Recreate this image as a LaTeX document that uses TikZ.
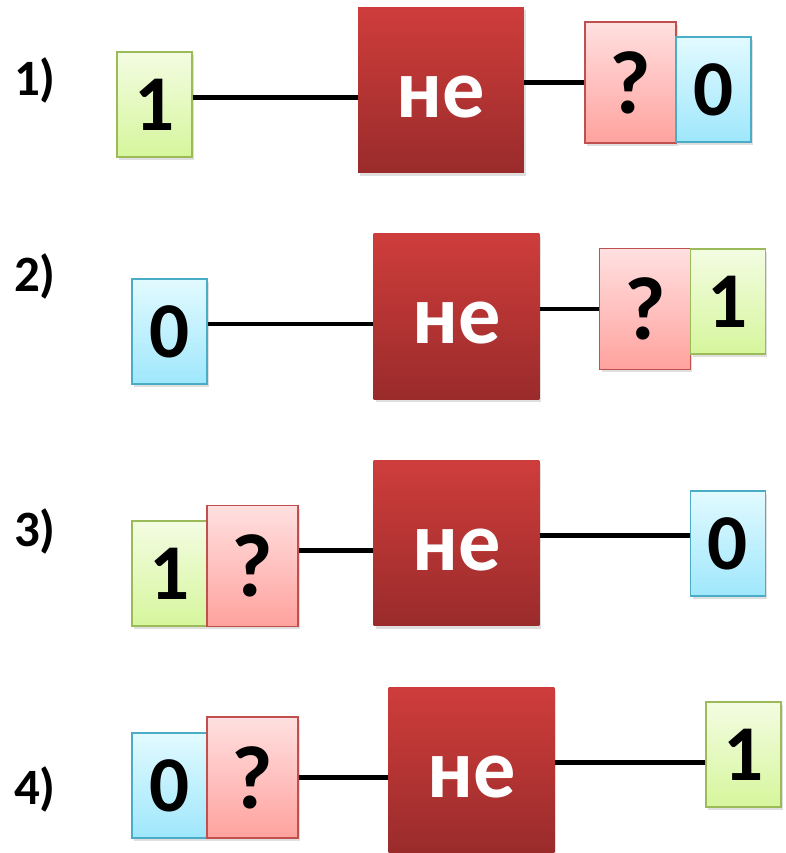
\documentclass[tikz,border=0pt]{standalone}
\usepackage{fontspec}
\setmainfont{Carlito}
\usetikzlibrary{calc,shadows,positioning}
\definecolor{onetop}{HTML}{F3FCE2}
\definecolor{onebot}{HTML}{D6F69C}
\definecolor{onedraw}{HTML}{9BBB59}
\definecolor{zerotop}{HTML}{E2FAFF}
\definecolor{zerobot}{HTML}{9FE7FC}
\definecolor{zerodraw}{HTML}{4BACC6}
\definecolor{asktop}{HTML}{FFE0E0}
\definecolor{askbot}{HTML}{FFA29E}
\definecolor{askdraw}{HTML}{C0504D}
\definecolor{gatetop}{HTML}{CE3D3B}
\definecolor{gatebot}{HTML}{9A2B2B}
\tikzstyle{bit}=[rectangle,inner sep=0pt,minimum width=1.5cm,minimum height=2.1cm,line width=1pt,font=\fontsize{45}{45}\selectfont\bfseries,drop shadow={shadow xshift=.04cm,shadow yshift=-.06cm,opacity=.25}]
\tikzstyle{one}=[bit,draw=onedraw,top color=onetop,bottom color=onebot]
\tikzstyle{zero}=[bit,draw=zerodraw,top color=zerotop,bottom color=zerobot]
\tikzstyle{ask}=[bit,minimum width=1.82cm,minimum height=2.42cm,draw=askdraw,top color=asktop,bottom color=askbot,font=\fontsize{51}{51}\selectfont\bfseries]
\tikzstyle{gate}=[rectangle,inner sep=0pt,minimum size=3.32cm,top color=gatetop,bottom color=gatebot,text=white,font=\fontsize{48}{48}\selectfont\bfseries,text height=1.08cm,text depth=0pt,drop shadow={shadow xshift=.04cm,shadow yshift=-.06cm,opacity=.25}]
\tikzstyle{wire}=[line width=2.8pt]
\tikzstyle{num}=[font=\fontsize{29}{29}\selectfont\bfseries]

\begin{document}
\begin{tikzpicture}[x=0.02cm,y=-0.02cm]
    \useasboundingbox (0,0) rectangle (786,853);

    % 1)
    \node[num] (lab1) at (35,80) {1)};
    \node[one] (in1) at (154.5,104.5) {1};
    \node[gate] (gate1) at (441,90) {не};
    \node[ask] (guess1) at (630.5,82.5) {?};
    \node[zero] (out1) at (713.5,89.5) {0};

    % 2)
    \node[num] (lab2) at (35,276) {2)};
    \node[zero] (in2) at (169.5,331.5) {0};
    \node[gate] (gate2) at (456.5,316.5) {не};
    \node[ask] (guess2) at (645,309) {?};
    \node[one] (out2) at (728,301.5) {1};

    % 3)
    \node[num] (lab3) at (35,531) {3)};
    \node[one] (in3) at (169.5,573.5) {1};
    \node[ask] (guess3) at (252.5,566) {?};
    \node[gate] (gate3) at (456.5,543) {не};
    \node[zero] (out3) at (728,543.5) {0};

    % 4)
    \node[num] (lab4) at (35,789) {4)};
    \node[zero] (in4) at (169.5,785.5) {0};
    \node[ask] (guess4) at (252.5,777.5) {?};
    \node[gate] (gate4) at (471.5,770) {не};
    \node[one] (out4) at (743.5,754.5) {1};

    \draw[wire] ([yshift=-0.15cm]gate1.west -| in1.east) -- ([yshift=-0.15cm]gate1.west);
    \draw[wire] ([yshift=0.15cm]gate1.east) -- ([yshift=0.15cm]gate1.east -| guess1.west);
    \draw[wire] ([yshift=-0.15cm]gate2.west -| in2.east) -- ([yshift=-0.15cm]gate2.west);
    \draw[wire] ([yshift=0.15cm]gate2.east) -- ([yshift=0.15cm]gate2.east -| guess2.west);
    \draw[wire] ([yshift=-0.15cm]gate3.west -| guess3.east) -- ([yshift=-0.15cm]gate3.west);
    \draw[wire] ([yshift=0.15cm]gate3.east) -- ([yshift=0.15cm]gate3.east -| out3.west);
    \draw[wire] ([yshift=-0.15cm]gate4.west -| guess4.east) -- ([yshift=-0.15cm]gate4.west);
    \draw[wire] ([yshift=0.15cm]gate4.east) -- ([yshift=0.15cm]gate4.east -| out4.west);
\end{tikzpicture}
\end{document}
